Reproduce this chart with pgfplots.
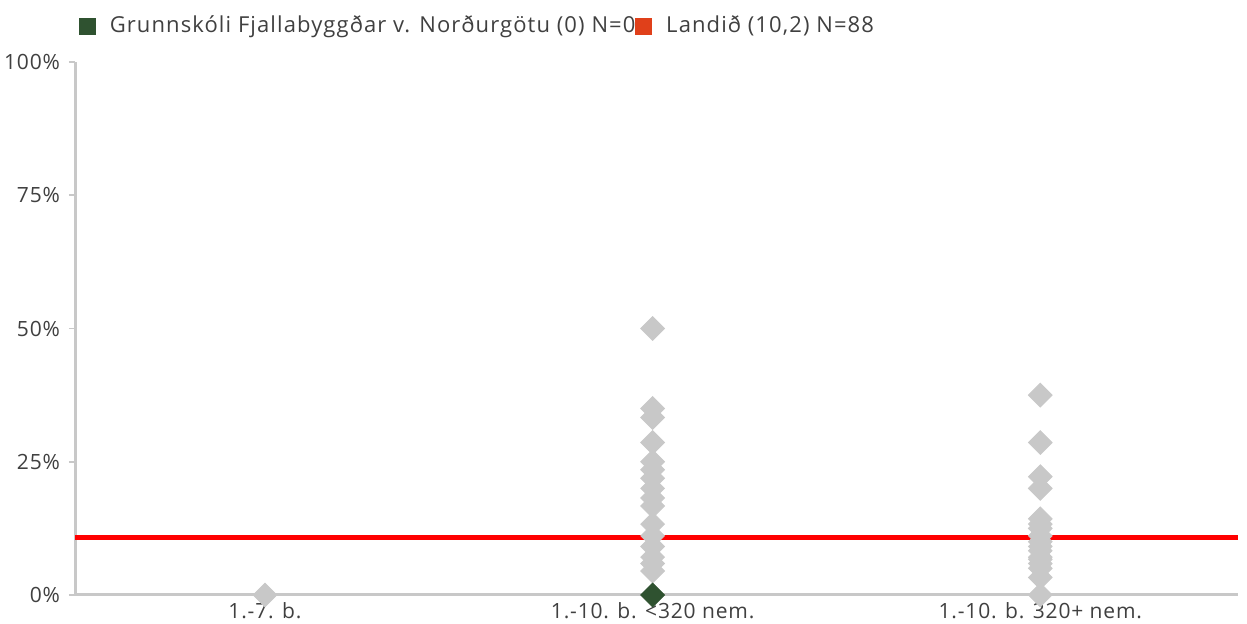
\documentclass[border=0pt]{standalone}
\usepackage{pgfplots}
\pgfplotsset{compat=1.18}
\usepackage{fontspec}
\setmainfont[LetterSpace=4]{Open Sans}
\newfontfamily\legfont[LetterSpace=5]{Open Sans}
\definecolor{gpt}{HTML}{C8C8C8}
\definecolor{grn}{HTML}{2F5230}
\definecolor{lnd}{HTML}{E0401A}
\definecolor{txt}{HTML}{404040}
\begin{document}
\begin{tikzpicture}
\useasboundingbox (-37.5pt,-14.5pt) rectangle (586pt,297.5pt);
\begin{axis}[
  at={(0,0)}, anchor=south west,
  scale only axis, width=581.5pt, height=266.5pt,
  xmin=-0.49, xmax=2.51, ymin=0, ymax=100,
  clip=false,
  axis x line*=bottom, axis y line*=left,
  axis line style={gpt, line width=1.5pt, -},
  xtick={0,1,2},
  xticklabels={1.-7. b., 1.-10. b. <320 nem., 1.-10. b. 320+ nem.},
  ytick={0,25,50,75,100},
  yticklabels={0\%,25\%,50\%,75\%,100\%},
  tick align=outside,
  major tick length=3pt,
  x tick style={draw=none},
  y tick style={gpt, line width=0.8pt},
  tick label style={font=\fontsize{10.5}{12}\selectfont, text=txt},
  xticklabel style={inner sep=0pt, yshift=-0.5pt},
  yticklabel style={xshift=-1pt},
  legend style={at={(0,1)}, anchor=south west, draw=none, fill=none,
    inner sep=0pt, outer sep=0pt, xshift=2pt, yshift=12pt,
    font=\legfont\fontsize{11}{13}\selectfont, text=txt,
    nodes={inner xsep=0pt, inner ysep=1pt},
    /tikz/every even column/.append style={column sep=0pt},
    /tikz/every odd column/.append style={column sep=7pt}},
  legend columns=2,
  legend cell align=left,
]
\addlegendimage{legend image code/.code={\fill[grn] (0pt,-4pt) rectangle (8pt,4pt);}}
\addlegendentry{Grunnskóli Fjallabyggðar v. Norðurgötu (0) N=0}
\addlegendimage{legend image code/.code={\fill[lnd] (0pt,-4pt) rectangle (8pt,4pt);}}
\addlegendentry{Landið (10,2) N=88}
\addplot[only marks, mark=square*, mark size=4.2pt, color=gpt, mark options={rotate=45}, forget plot] coordinates {
(0,0)
(1,50) (1,35) (1,33.3) (1,28.6) (1,25) (1,23.5) (1,21.9) (1,20) (1,18.2) (1,16.7)
(1,13.3) (1,11.1) (1,9.1) (1,7.1) (1,5.9) (1,4.5)
(2,37.5) (2,28.6) (2,22.2) (2,20) (2,14.3) (2,13.3) (2,12.5) (2,11.1) (2,10)
(2,9.1) (2,8.3) (2,7.1) (2,6.7) (2,5.9) (2,5) (2,3.3) (2,0)
};
\addplot[red, line width=2.5pt, forget plot] coordinates {(-0.49,10.7) (2.51,10.7)};
\addplot[only marks, mark=square*, mark size=4.2pt, color=grn, mark options={rotate=45}, forget plot] coordinates {(1,0)};
\end{axis}
\end{tikzpicture}
\end{document}
